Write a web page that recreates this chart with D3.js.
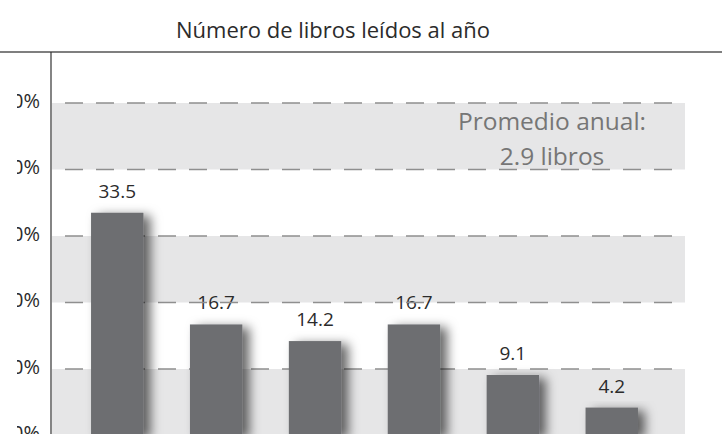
<!DOCTYPE html>
<html>
<head>
<meta charset="utf-8">
<script src="https://cdn.jsdelivr.net/npm/d3@7"></script>
<style>
  body { margin: 0; background: #fff; }
  svg { display: block; font-family: "Open Sans", "Noto Sans", sans-serif; }
</style>
</head>
<body>
<svg id="chart" width="722" height="434"></svg>
<script>
// data
let categories = ["Ninguno", "1-2", "3-5", "6-10", "11-20", "Más de 20"];
let values = [33.5, 16.7, 14.2, 16.7, 9.1, 4.2];
let tickValues = [0, 10, 20, 30, 40, 50];
let bandStarts = [0, 20, 40];
let title = "Número de libros leídos al año";
let note = ["Promedio anual:", "2.9 libros"];

let svg = d3.select("#chart");
let axisX = 51, plotRight = 685;

let y = d3.scaleLinear()
    .domain([0, 50])
    .range([435.5, 103]);

let x = d3.scaleBand()
    .domain(categories)
    .range([67.8, 661.2])
    .paddingInner(0.47)
    .paddingOuter(0.235);

let defs = svg.append("defs");

// shadow for the bars
let filter = defs.append("filter")
    .attr("id", "shadow")
    .attr("x", "-50%").attr("y", "-20%")
    .attr("width", "220%").attr("height", "150%");
filter.append("feDropShadow")
    .attr("dx", 7).attr("dy", 3)
    .attr("stdDeviation", 5.5)
    .attr("flood-color", "#000")
    .attr("flood-opacity", 0.6);

// the scan is cut on the left, so the tick labels are too
defs.append("clipPath").attr("id", "leftcut")
    .append("rect")
    .attr("x", 17).attr("y", 0)
    .attr("width", 60).attr("height", 434);

// title
svg.append("text")
    .attr("x", 333).attr("y", 38)
    .attr("text-anchor", "middle")
    .attr("font-size", 22)
    .attr("fill", "#2b2b2b")
    .text(title);

// grey bands
svg.append("g").selectAll("rect")
    .data(bandStarts)
    .join("rect")
    .attr("x", axisX + 1)
    .attr("width", plotRight - axisX - 1)
    .attr("y", d => y(d + 10))
    .attr("height", d => y(d) - y(d + 10))
    .attr("fill", "#e6e6e7");

// average note
svg.append("g").selectAll("text")
    .data(note)
    .join("text")
    .attr("x", 552)
    .attr("y", (d, i) => 130 + i * 35)
    .attr("text-anchor", "middle")
    .attr("font-size", 24.5)
    .attr("fill", "#767676")
    .text(d => d);

// value labels
svg.append("g").selectAll("text")
    .data(values)
    .join("text")
    .attr("x", (d, i) => x(categories[i]) + x.bandwidth() / 2)
    .attr("y", d => y(d) - 15)
    .attr("text-anchor", "middle")
    .attr("font-size", 19)
    .attr("fill", "#2b2b2b")
    .text(d => d.toFixed(1));

// dashed gridlines
svg.append("g").selectAll("line")
    .data(tickValues.filter(d => d > 0))
    .join("line")
    .attr("x1", 65).attr("x2", plotRight)
    .attr("y1", d => y(d)).attr("y2", d => y(d))
    .attr("stroke", "#8f8f8f")
    .attr("stroke-width", 1.5)
    .attr("stroke-dasharray", "18,13");

// bars
svg.append("g").selectAll("rect")
    .data(values)
    .join("rect")
    .attr("x", (d, i) => x(categories[i]))
    .attr("width", x.bandwidth())
    .attr("y", d => y(d))
    .attr("height", d => y(0) - y(d))
    .attr("fill", "#6d6e71")
    .attr("filter", "url(#shadow)");

// y axis labels
let yAxis = svg.append("g")
    .attr("clip-path", "url(#leftcut)")
    .append("g")
    .attr("transform", `translate(${axisX},0)`)
    .call(d3.axisLeft(y)
        .tickValues(tickValues)
        .tickSize(0)
        .tickPadding(11)
        .tickFormat(d => d + "%"));
yAxis.select(".domain").remove();
yAxis.selectAll("text")
    .attr("font-size", 20)
    .attr("font-family", "'Open Sans', sans-serif")
    .attr("fill", "#2b2b2b")
    .attr("dy", "0.2em");

// top rule and vertical axis line
svg.append("line")
    .attr("x1", 0).attr("x2", 722)
    .attr("y1", 52).attr("y2", 52)
    .attr("stroke", "#555").attr("stroke-width", 1.5);
svg.append("line")
    .attr("x1", axisX).attr("x2", axisX)
    .attr("y1", 52).attr("y2", y(0))
    .attr("stroke", "#333").attr("stroke-width", 1.2);
</script>
</body>
</html>
